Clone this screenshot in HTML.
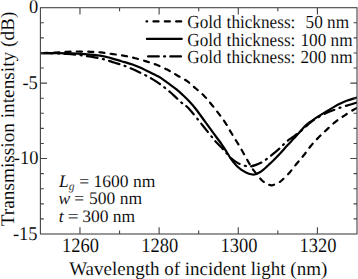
<!DOCTYPE html>
<html><head><meta charset="utf-8"><style>
html,body{margin:0;padding:0;background:#fff;width:358px;height:279px;overflow:hidden}
svg{display:block;text-rendering:geometricPrecision} text{stroke:#fff;stroke-width:0.1px}
</style></head><body>
<svg width="358" height="279" viewBox="0 0 358 279">
<defs><clipPath id="c"><rect x="40.4" y="7.7" width="316.6" height="226.3"/></clipPath></defs>
<g fill="none" stroke="#000" stroke-width="2.2" stroke-linecap="round" clip-path="url(#c)">
<path d="M40.50,53.10 C42.92,53.00 50.58,52.72 55.00,52.50 C59.42,52.28 63.03,51.97 67.00,51.80 C70.97,51.63 74.85,51.50 78.80,51.50 C82.75,51.50 87.00,51.65 90.70,51.80 C94.40,51.95 97.30,52.02 101.00,52.40 C104.70,52.78 108.98,53.53 112.90,54.10 C116.82,54.67 120.78,55.12 124.50,55.80 C128.22,56.48 131.58,57.27 135.20,58.20 C138.82,59.13 142.73,60.33 146.20,61.40 C149.67,62.47 152.50,63.23 156.00,64.60 C159.50,65.97 163.72,67.83 167.20,69.60 C170.68,71.37 173.57,73.27 176.90,75.20 C180.23,77.13 184.05,78.98 187.20,81.20 C190.35,83.42 192.97,86.05 195.80,88.50 C198.63,90.95 201.55,93.20 204.20,95.90 C206.85,98.60 209.28,101.75 211.70,104.70 C214.12,107.65 216.45,110.62 218.70,113.60 C220.95,116.58 223.13,119.45 225.20,122.60 C227.27,125.75 229.12,129.22 231.10,132.50 C233.08,135.78 235.17,139.10 237.10,142.30 C239.03,145.50 240.77,148.33 242.70,151.70 C244.63,155.07 246.83,159.33 248.70,162.50 C250.57,165.67 251.72,167.75 253.90,170.70 C256.08,173.65 259.65,178.05 261.80,180.20 C263.95,182.35 265.13,182.75 266.80,183.60 C268.47,184.45 269.85,185.47 271.80,185.30 C273.75,185.13 276.87,183.40 278.50,182.60 C280.13,181.80 279.73,182.20 281.60,180.50 C283.47,178.80 287.13,175.27 289.70,172.40 C292.27,169.53 294.62,166.20 297.00,163.30 C299.38,160.40 301.70,157.88 304.00,155.00 C306.30,152.12 308.38,148.92 310.80,146.00 C313.22,143.08 315.92,140.15 318.50,137.50 C321.08,134.85 323.48,132.72 326.30,130.10 C329.12,127.48 332.32,124.27 335.40,121.80 C338.48,119.33 341.77,117.32 344.80,115.30 C347.83,113.28 351.57,110.92 353.60,109.70 C355.63,108.48 356.43,108.28 357.00,108.00" stroke-dasharray="5.1 6.25" stroke-dashoffset="9.075"/>
<path d="M40.50,53.10 C42.92,53.10 50.08,53.07 55.00,53.10 C59.92,53.13 65.00,53.13 70.00,53.30 C75.00,53.47 80.00,53.72 85.00,54.10 C90.00,54.48 95.70,54.93 100.00,55.60 C104.30,56.27 107.22,57.17 110.80,58.10 C114.38,59.03 117.88,60.13 121.50,61.20 C125.12,62.27 129.40,63.43 132.50,64.50 C135.60,65.57 137.58,66.48 140.10,67.60 C142.62,68.72 145.12,70.00 147.60,71.20 C150.08,72.40 152.80,73.70 155.00,74.80 C157.20,75.90 158.30,76.17 160.80,77.80 C163.30,79.43 167.38,82.67 170.00,84.60 C172.62,86.53 174.35,87.65 176.50,89.40 C178.65,91.15 180.75,93.08 182.90,95.10 C185.05,97.12 187.22,99.15 189.40,101.50 C191.58,103.85 193.48,105.97 196.00,109.20 C198.52,112.43 202.02,117.50 204.50,120.90 C206.98,124.30 208.75,126.67 210.90,129.60 C213.05,132.53 215.63,136.08 217.40,138.50 C219.17,140.92 220.07,142.05 221.50,144.10 C222.93,146.15 224.38,148.28 226.00,150.80 C227.62,153.32 229.48,156.73 231.20,159.20 C232.92,161.67 234.58,163.82 236.30,165.60 C238.02,167.38 239.88,168.77 241.50,169.90 C243.12,171.03 244.38,171.67 246.00,172.40 C247.62,173.13 249.77,173.95 251.20,174.30 C252.63,174.65 253.32,174.75 254.60,174.50 C255.88,174.25 257.47,173.58 258.90,172.80 C260.33,172.02 261.77,170.95 263.20,169.80 C264.63,168.65 266.37,166.93 267.50,165.90 C268.63,164.87 268.87,164.67 270.00,163.60 C271.13,162.53 272.50,161.30 274.30,159.50 C276.10,157.70 278.65,155.12 280.80,152.80 C282.95,150.48 285.05,147.97 287.20,145.60 C289.35,143.23 291.57,140.90 293.70,138.60 C295.83,136.30 298.18,133.82 300.00,131.80 C301.82,129.78 302.97,128.10 304.60,126.50 C306.23,124.90 308.08,123.50 309.80,122.20 C311.52,120.90 313.20,119.83 314.90,118.70 C316.60,117.57 317.82,116.77 320.00,115.40 C322.18,114.03 325.58,111.97 328.00,110.50 C330.42,109.03 332.35,107.80 334.50,106.60 C336.65,105.40 338.75,104.32 340.90,103.30 C343.05,102.28 344.72,101.45 347.40,100.50 C350.08,99.55 355.40,98.08 357.00,97.60"/>
<path d="M40.50,53.10 C42.92,53.15 50.58,53.25 55.00,53.40 C59.42,53.55 62.83,53.70 67.00,54.00 C71.17,54.30 76.00,54.75 80.00,55.20 C84.00,55.65 87.22,56.07 91.00,56.70 C94.78,57.33 98.87,58.03 102.70,59.00 C106.53,59.97 110.20,61.30 114.00,62.50 C117.80,63.70 121.97,64.90 125.50,66.20 C129.03,67.50 131.92,68.82 135.20,70.30 C138.48,71.78 142.40,73.67 145.20,75.10 C148.00,76.53 149.58,77.45 152.00,78.90 C154.42,80.35 157.20,82.03 159.70,83.80 C162.20,85.57 164.62,87.53 167.00,89.50 C169.38,91.47 171.53,93.37 174.00,95.60 C176.47,97.83 179.42,100.83 181.80,102.90 C184.18,104.97 185.52,105.12 188.30,108.00 C191.08,110.88 195.77,116.87 198.50,120.20 C201.23,123.53 202.48,125.22 204.70,128.00 C206.92,130.78 210.08,134.75 211.80,136.90 C213.52,139.05 213.38,139.12 215.00,140.90 C216.62,142.68 219.67,145.65 221.50,147.60 C223.33,149.55 224.38,150.80 226.00,152.60 C227.62,154.40 229.48,156.82 231.20,158.40 C232.92,159.98 234.73,161.12 236.30,162.10 C237.87,163.08 239.08,163.67 240.60,164.30 C242.12,164.93 243.83,165.53 245.40,165.90 C246.97,166.27 248.23,166.67 250.00,166.50 C251.77,166.33 254.02,165.60 256.00,164.90 C257.98,164.20 260.20,163.22 261.90,162.30 C263.60,161.38 264.77,160.45 266.20,159.40 C267.63,158.35 269.03,157.18 270.50,156.00 C271.97,154.82 273.42,153.62 275.00,152.30 C276.58,150.98 278.63,149.35 280.00,148.10 C281.37,146.85 282.00,145.98 283.20,144.80 C284.40,143.62 285.48,142.37 287.20,141.00 C288.92,139.63 291.37,138.17 293.50,136.60 C295.63,135.03 298.08,133.15 300.00,131.60 C301.92,130.05 303.33,128.77 305.00,127.30 C306.67,125.83 308.17,124.27 310.00,122.80 C311.83,121.33 313.37,120.10 316.00,118.50 C318.63,116.90 323.38,114.40 325.80,113.20 C328.22,112.00 328.08,112.23 330.50,111.30 C332.92,110.37 337.10,108.70 340.30,107.60 C343.50,106.50 346.92,105.55 349.70,104.70 C352.48,103.85 355.78,102.87 357.00,102.50" stroke-dasharray="10.7 5.45 1.1 5.45" stroke-dashoffset="21.5"/>
</g>
<g fill="none" stroke="#444" stroke-width="1.1">
<rect x="40.4" y="7.7" width="316.6" height="226.3"/>
<path d="M79.97,234.0V227.30 M79.97,7.7V14.40 M119.55,234.0V230.40 M119.55,7.7V11.30 M159.12,234.0V227.30 M159.12,7.7V14.40 M198.70,234.0V230.40 M198.70,7.7V11.30 M238.28,234.0V227.30 M238.28,7.7V14.40 M277.85,234.0V230.40 M277.85,7.7V11.30 M317.42,234.0V227.30 M317.42,7.7V14.40 M40.4,218.91H43.80 M357.0,218.91H353.60 M40.4,203.83H43.80 M357.0,203.83H353.60 M40.4,188.74H43.80 M357.0,188.74H353.60 M40.4,173.65H43.80 M357.0,173.65H353.60 M40.4,158.57H47.10 M357.0,158.57H350.30 M40.4,143.48H43.80 M357.0,143.48H353.60 M40.4,128.39H43.80 M357.0,128.39H353.60 M40.4,113.31H43.80 M357.0,113.31H353.60 M40.4,98.22H43.80 M357.0,98.22H353.60 M40.4,83.13H47.10 M357.0,83.13H350.30 M40.4,68.05H43.80 M357.0,68.05H353.60 M40.4,52.96H43.80 M357.0,52.96H353.60 M40.4,37.87H43.80 M357.0,37.87H353.60 M40.4,22.79H43.80 M357.0,22.79H353.60"/>
</g>
<g fill="none" stroke="#000" stroke-width="2.2" stroke-linecap="round">
<path d="M146.5,21.4H181.3" stroke-dasharray="5.1 6.25" stroke-dashoffset="4.4"/>
<path d="M146.9,38.9H181.7"/>
<path d="M148.1,56.4H181.7" stroke-dasharray="10.7 5.2 1.1 5.2"/>
</g>
<g font-family="Liberation Serif" font-size="17.2" fill="#000">
<text transform="translate(187.3,28.1) scale(1,1.07)">Gold</text><text transform="translate(226.6,28.1) scale(1,1.07)">thickness:</text>
<text transform="translate(187.3,45.6) scale(1,1.07)">Gold</text><text transform="translate(226.6,45.6) scale(1,1.07)">thickness:</text>
<text transform="translate(187.3,63.1) scale(1,1.07)">Gold</text><text transform="translate(226.6,63.1) scale(1,1.07)">thickness:</text>
<text transform="translate(349,28.1) scale(1,1.07)" text-anchor="end">50 nm</text>
<text transform="translate(352.5,45.6) scale(1,1.07)" text-anchor="end">100 nm</text>
<text transform="translate(352.5,63.1) scale(1,1.07)" text-anchor="end">200 nm</text>
</g>
<g font-family="Liberation Serif" font-size="17.5" fill="#000">
<text x="59" y="186.5" font-style="italic">L</text><text x="68.8" y="190.3" font-size="11.5" font-style="italic">g</text><text x="79.2" y="186.5">=</text><text x="93.6" y="186.5">1600 nm</text>
<text x="58.6" y="203.9" font-style="italic">w</text><text x="74.3" y="203.9">=</text><text x="89" y="203.9">500 nm</text>
<text x="58.8" y="221.5" font-style="italic">t</text><text x="67.8" y="221.5" transform="translate(67.8,0) scale(1.1,1) translate(-67.8,0)">=</text><text x="82.2" y="221.5">300 nm</text>
</g>
<g font-family="Liberation Serif" font-size="18.5" fill="#000" text-anchor="middle">
<text transform="translate(80.57,251.8) scale(1,1.1)">1260</text>
<text transform="translate(159.72,251.8) scale(1,1.1)">1280</text>
<text transform="translate(238.88,251.8) scale(1,1.1)">1300</text>
<text transform="translate(318.02,251.8) scale(1,1.1)">1320</text>
</g>
<g font-family="Liberation Serif" font-size="18.5" fill="#000" text-anchor="end">
<text transform="translate(38.2,13.10) scale(1,1.05)">0</text>
<text transform="translate(37.8,89.33) scale(1,1.05)">-5</text>
<text transform="translate(38.4,164.07) scale(1,1.05)">-10</text>
<text transform="translate(37.6,240.20) scale(1,1.05)">-15</text>
</g>
<text transform="translate(69.2,275.4)" font-family="Liberation Serif" font-size="19" fill="#000">Wavelength of incident light (nm)</text>
<text transform="translate(13.6,226.3) rotate(-90)" font-family="Liberation Serif" font-size="19.3" fill="#000">Transmission intensity (dB)</text>
</svg>
</body></html>
